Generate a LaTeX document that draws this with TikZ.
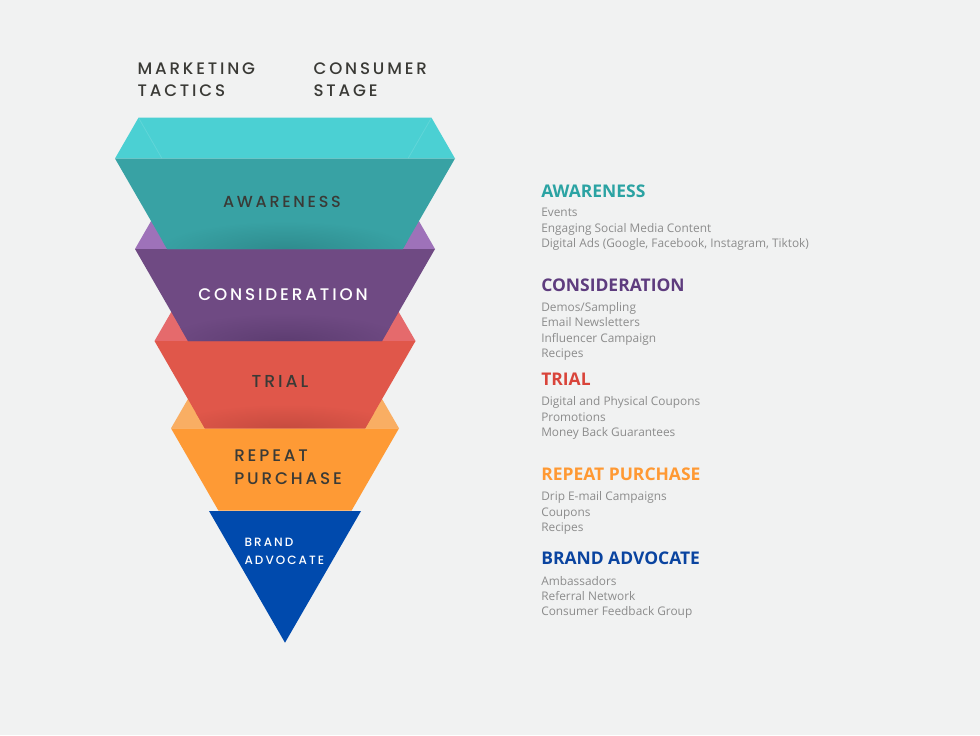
\documentclass[tikz,border=0pt]{standalone}
\usepackage{fontspec}
\setmainfont{Open Sans}
\newfontfamily\mfont[LetterSpace=17]{Poppins Medium}
\newfontfamily\lfont{Open Sans}
\definecolor{bg}{HTML}{F1F2F2}
\definecolor{tealtop}{HTML}{4BD0D3}
\definecolor{tealfront}{HTML}{38A2A4}
\definecolor{tealshadow}{HTML}{2E8A8C}
\definecolor{purtop}{HTML}{9E72B9}
\definecolor{purfront}{HTML}{6F4A83}
\definecolor{purshadow}{HTML}{5C3C70}
\definecolor{redtop}{HTML}{E56A6C}
\definecolor{redfront}{HTML}{E0574A}
\definecolor{redshadow}{HTML}{C44A3E}
\definecolor{ortop}{HTML}{F9AE63}
\definecolor{orfront}{HTML}{FE9A35}
\definecolor{bluefront}{HTML}{004AAD}
\definecolor{darktxt}{HTML}{3A3A36}
\definecolor{itemgray}{HTML}{8C8C8C}
\definecolor{hteal}{HTML}{2BA3A3}
\definecolor{hpur}{HTML}{5E3C7E}
\definecolor{hred}{HTML}{D9443A}
\definecolor{hor}{HTML}{FF9933}
\definecolor{hblue}{HTML}{0A44A0}
\tikzset{
  hdr/.style={inner sep=0pt, anchor=base west, text=darktxt, font=\mfont\fontsize{12.5}{14}\selectfont},
  flab/.style={inner sep=0pt, anchor=base, font=\mfont\fontsize{12}{14}\selectfont},
  flabw/.style={inner sep=0pt, anchor=base west, font=\mfont\fontsize{12.5}{14}\selectfont},
  head/.style={inner sep=0pt, anchor=base west, font=\lfont\bfseries\fontsize{13.1}{16}\selectfont},
  item/.style={inner sep=0pt, anchor=base west, text=itemgray, font=\lfont\fontsize{8.9}{11}\selectfont},
}
\begin{document}
\begin{tikzpicture}[x=0.75pt,y=-0.75pt]
\fill[bg] (0,0) rectangle (980,735);
\useasboundingbox (0,0) rectangle (980,735);

% blue
\fill[bluefront] (209,511) -- (361,511) -- (285,642.7) -- cycle;
% orange
\fill[ortop] (194.3,388) -- (375.7,388) -- (399,428.3) -- (171,428.3) -- cycle;
\fill[orfront] (171,428.3) -- (399,428.3) -- (351.6,510.5) -- (218.4,510.5) -- cycle;
% red
\fill[redtop] (177.6,301) -- (392.4,301) -- (415.5,341) -- (154.5,341) -- cycle;
\begin{scope}
\path[clip] (154.5,341) -- (415.5,341) -- (365.2,428.3) -- (204.8,428.3) -- cycle;
\fill[redfront] (150,335) rectangle (420,430);
\shade[inner color=redshadow, outer color=redfront] (285,430) ellipse (120 and 26);
\end{scope}
% purple
\fill[purtop] (158,209) -- (412,209) -- (435,249) -- (135,249) -- cycle;
\begin{scope}
\path[clip] (135,249) -- (435,249) -- (382,341) -- (188,341) -- cycle;
\fill[purfront] (130,245) rectangle (440,345);
\shade[inner color=purshadow, outer color=purfront] (285,343) ellipse (125 and 30);
\end{scope}
% teal
\fill[tealtop] (138.5,117.7) -- (431.5,117.7) -- (455,158.5) -- (115,158.5) -- cycle;
\draw[white, opacity=0.12, line width=0.6pt] (138.5,117.7) -- (162,158.5);
\draw[white, opacity=0.12, line width=0.6pt] (431.5,117.7) -- (408,158.5);
\begin{scope}
\path[clip] (115,158.5) -- (455,158.5) -- (402.8,249) -- (167.2,249) -- cycle;
\fill[tealfront] (110,155) rectangle (460,252);
\shade[inner color=tealshadow, outer color=tealfront] (285,251) ellipse (130 and 30);
\end{scope}

% header
\node[hdr] (h1) at (137.3,74.3) {MARKETING};
\node[hdr] (h2) at (137.3,96.7) {TACTICS};
\node[hdr] (h3) at (313.3,74.3) {CONSUMER};
\node[hdr] (h4) at (313.3,96.7) {STAGE};

% funnel labels
\node[flab, text=darktxt] (l1) at (282,207.3) {AWARENESS};
\node[flab, text=white, font=\mfont\fontsize{12.6}{15}\selectfont] (l2) at (283,300) {CONSIDERATION};
\node[flab, text=darktxt, font=\mfont\fontsize{13}{15}\selectfont] (l3) at (280,387.3) {TRIAL};
\node[flabw, text=darktxt, font=\mfont\fontsize{12.6}{15}\selectfont] (l4a) at (234,461.7) {REPEAT};
\node[flabw, text=darktxt, font=\mfont\fontsize{12.6}{15}\selectfont] (l4b) at (234,484.3) {PURCHASE};
\node[flabw, text=white, font=\mfont\fontsize{9}{12}\selectfont] (l5a) at (244.3,546.7) {BRAND};
\node[flabw, text=white, font=\mfont\fontsize{9}{12}\selectfont] (l5b) at (244.3,564.3) {ADVOCATE};

% right list
\node[head, text=hteal] (r1) at (541,197) {AWARENESS};
\node[item] (r1a) at (541,216.8) {Events};
\node[item] (r1b) at (541,232.1) {Engaging Social Media Content};
\node[item] (r1c) at (541,247.4) {Digital Ads (Google, Facebook, Instagram, Tiktok)};

\node[head, text=hpur] (r2) at (541,291) {CONSIDERATION};
\node[item] (r2a) at (541,311.5) {Demos/Sampling};
\node[item] (r2b) at (541,326.8) {Email Newsletters};
\node[item] (r2c) at (541,342.1) {Influencer Campaign};
\node[item] (r2d) at (541,357.4) {Recipes};

\node[head, text=hred] (r3) at (541,385.7) {TRIAL};
\node[item] (r3a) at (541,405.7) {Digital and Physical Coupons};
\node[item] (r3b) at (541,421) {Promotions};
\node[item] (r3c) at (541,436.3) {Money Back Guarantees};

\node[head, text=hor] (r4) at (541,480) {REPEAT PURCHASE};
\node[item] (r4a) at (541,500.7) {Drip E-mail Campaigns};
\node[item] (r4b) at (541,516) {Coupons};
\node[item] (r4c) at (541,531.3) {Recipes};

\node[head, text=hblue] (r5) at (541,564) {BRAND ADVOCATE};
\node[item] (r5a) at (541,585) {Ambassadors};
\node[item] (r5b) at (541,600.3) {Referral Network};
\node[item] (r5c) at (541,615.6) {Consumer Feedback Group};
\end{tikzpicture}
\end{document}
